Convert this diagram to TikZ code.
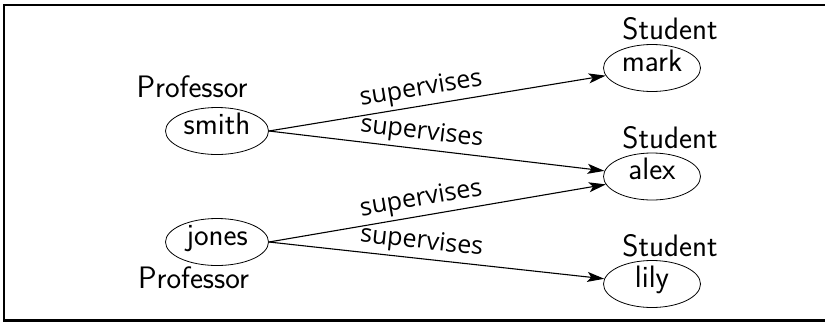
\documentclass[tikz,border=0pt]{standalone}
\usepackage{fontspec}
\newfontfamily\lblfont{Open Sans}
\usetikzlibrary{shapes.geometric,arrows.meta}
\begin{document}
\begin{tikzpicture}[x=1pt,y=-1pt,
  ent/.style={ellipse, draw, line width=0.8pt, inner sep=0pt, minimum height=47pt,
    font=\sffamily\fontsize{31}{36}\selectfont, text height=0.7em, text depth=0.05em},
  prof/.style={ent, minimum width=103pt},
  stud/.style={ent, minimum width=97pt},
  tag/.style={font=\sffamily\fontsize{31}{36}\selectfont, anchor=base, inner sep=0pt},
  rel/.style={line width=1.1pt, -{Stealth[length=17pt,width=10pt,inset=4pt]}},
  rl/.style={font=\lblfont\fontsize{25}{29}\selectfont, sloped, above, inner sep=3.5pt}]
\useasboundingbox (0,0) rectangle (825,322);
\clip (0,0) rectangle (825,322);
\draw[line width=2.5pt] (4,5) rectangle (830,320.5);
\node[prof] (smith) at (217,131) {smith};
\node[prof] (jones) at (217,242) {jones};
\node[stud] (mark) at (652,68) {mark};
\node[stud] (alex) at (652,176.5) {alex};
\node[stud] (lily) at (652,284) {lily};
\node[tag] (smithtag) at (192,97.5) {Professor};
\node[tag] (jonestag) at (193.5,288.3) {Professor};
\node[tag] (marktag) at (670,39) {Student};
\node[tag] (alextag) at (670,148.3) {Student};
\node[tag] (lilytag) at (670,256.7) {Student};
\draw[rel] (smith.east) -- node[rl,pos=0.46] (l1) {supervises} (mark);
\draw[rel] (smith.east) -- node[rl,pos=0.45] (l2) {supervises} (alex);
\draw[rel] (jones.east) -- node[rl,pos=0.46] (l3) {supervises} (alex);
\draw[rel] (jones.east) -- node[rl,pos=0.45] (l4) {supervises} (lily);
\end{tikzpicture}
\end{document}
